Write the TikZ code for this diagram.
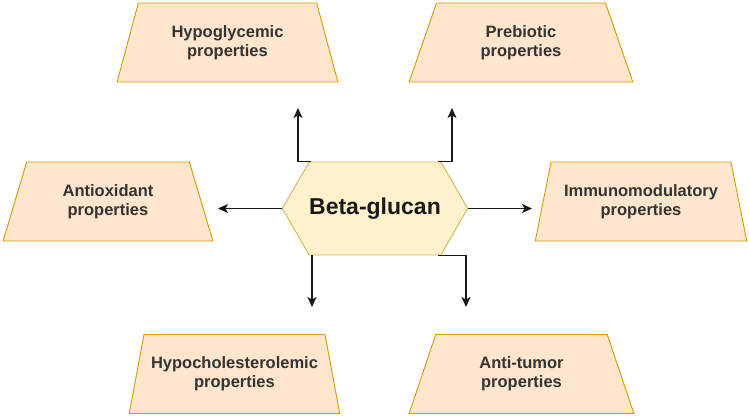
\documentclass[tikz,border=0pt]{standalone}
\usepackage{fontspec}
\setmainfont{Liberation Sans}
\usepackage{xcolor}
\usepackage{tikz}
\usetikzlibrary{arrows.meta, positioning, shapes.geometric, shapes.symbols}

\definecolor{propfill}{HTML}{FFE6CC}
\definecolor{propdraw}{HTML}{D79B00}
\definecolor{hexfill}{HTML}{FFF2CC}
\definecolor{hexdraw}{HTML}{D6B656}

\begin{document}
\begin{tikzpicture}[x=1pt, y=-1pt,
    prop/.style={trapezium, trapezium stretches=true, trapezium angle=71, draw=propdraw, fill=propfill, line width=0.9pt, minimum height=79pt, align=center, text=black!80, font=\bfseries\fontsize{16.5}{19}\selectfont},
    core/.style={signal, signal to=east and west, signal pointer angle=120, draw=hexdraw, fill=hexfill, line width=0.9pt, minimum width=182pt, minimum height=93pt, inner sep=0pt, text=black!90, font=\bfseries\fontsize{23}{27}\selectfont},
    arrow/.style={-{Stealth[length=10pt, width=9pt, inset=2.5pt]}, line width=1.1pt, draw=black!90}
]

    % fixed frame
    \useasboundingbox (0,0) rectangle (749,418);

    % centre
    \node[core] (hex) at (375,208.5) {Beta-glucan};

    % properties
    \node[prop, minimum width=221pt] (hypo)  at (227.5,42.5) {Hypoglycemic\\properties};
    \node[prop, minimum width=224pt] (prebio) at (521,42.5)  {Prebiotic\\properties};
    \node[prop, minimum width=210pt] (anti)  at (108,201.5)  {Antioxidant\\properties};
    \node[prop, minimum width=212pt] (immuno) at (641,201.5) {Immunomodulatory\\properties};
    \node[prop, minimum width=211pt] (chol)  at (234.5,374)  {Hypocholesterolemic\\properties};
    \node[prop, minimum width=225pt] (tumor) at (521.5,374)  {Anti-tumor\\properties};

    % free arrow ends
    \coordinate (tipHypo)   at (298,108);
    \coordinate (tipPrebio) at (452,108);
    \coordinate (tipAnti)   at (218,208.5);
    \coordinate (tipImmuno) at (532,208.5);
    \coordinate (tipChol)   at (312,307);
    \coordinate (tipTumor)  at (466,307);

    % arrows out of the hexagon
    \draw[arrow] ([xshift=-64pt]hex.north) -| (tipHypo);
    \draw[arrow] ([xshift=63pt]hex.north) -| (tipPrebio);
    \draw[arrow] (hex.west) -- (tipAnti);
    \draw[arrow] (hex.east) -- (tipImmuno);
    \draw[arrow] ([xshift=-63pt]hex.south) -- (tipChol);
    \draw[arrow] ([xshift=63pt]hex.south) -| (tipTumor);

\end{tikzpicture}
\end{document}
